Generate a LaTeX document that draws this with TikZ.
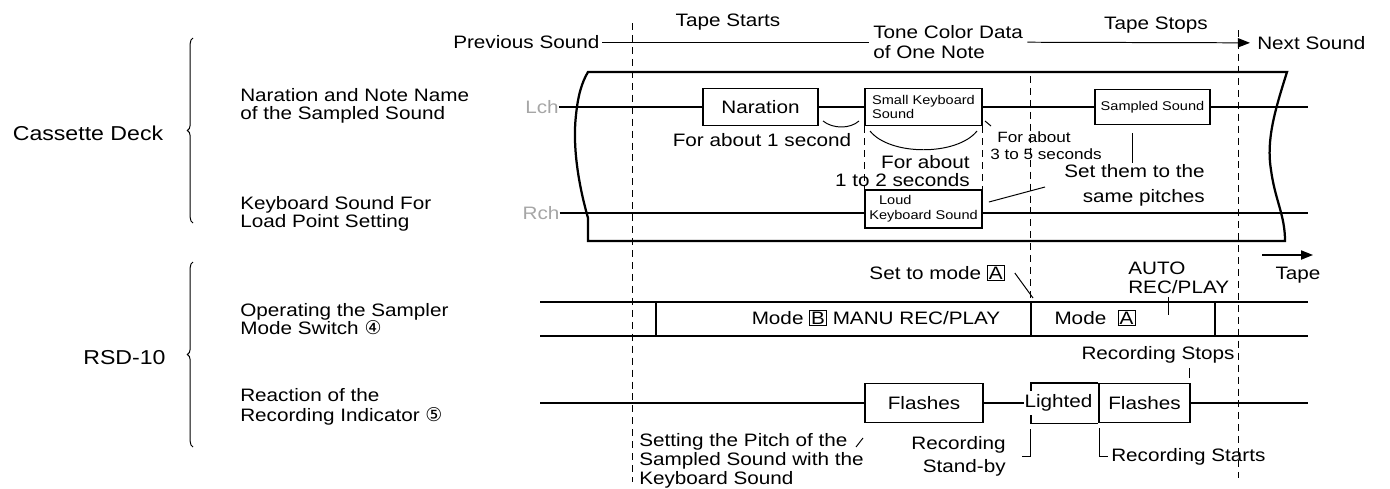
\documentclass[tikz,border=0pt]{standalone}
\usepackage{fontspec}
\setmainfont{Liberation Sans}[FakeStretch=1.15]
\newfontfamily\symfont{DejaVu Sans}
\usetikzlibrary{arrows.meta,decorations.pathreplacing,calc}
\newcommand{\fsz}[2]{\fontsize{#1}{#2}\selectfont\lineskiplimit=-20pt\relax}
\newcommand{\modekey}[1]{{\setlength{\fboxsep}{0.7pt}\setlength{\fboxrule}{0.7pt}\fbox{#1}}}
\newcommand{\circnum}[1]{{\symfont\fontsize{13.5}{13.5}\selectfont #1}}
\tikzset{
  txt/.style={inner sep=0pt,font=\fsz{12.8}{15}},           % plain label
  big/.style={inner sep=0pt,font=\fsz{14.3}{16}},           % group label
  chan/.style={inner sep=0pt,font=\fsz{12.8}{15},text=gray!70},% Lch / Rch
  sbox/.style={draw,line width=1.3pt,inner sep=0pt,minimum height=9.25mm,font=\fsz{12.8}{15}},
  track/.style={line width=1.3pt},
  tape/.style={line width=1.6pt},
  lead/.style={line width=0.7pt},
  guide/.style={line width=0.7pt,dash pattern=on 5pt off 3.5pt},
  tip/.style={-{Triangle[length=3mm,width=2.3mm]}},
}

\begin{document}
\begin{tikzpicture}[x=0.25mm,y=-0.25mm]
  \useasboundingbox (0,0) rectangle (1390,488);
  % time marks
  \draw[guide] (632,23) -- (632,482);
  \draw[guide] (1238,30) -- (1238,478);
  \draw[guide] (1030,76) -- (1030,300);
  % top line
  \node[txt,anchor=west] (prev) at (453,42) {Previous Sound};
  \node[txt,anchor=west,align=left,font=\fsz{12.8}{14.2}] (tone) at (873,42) {Tone Color Data\\of One Note};
  \node[txt,anchor=west] (next) at (1257,43) {Next Sound};
  \node[txt] (tstart) at (728,22) {Tape Starts};
  \node[txt] (tstop) at (1156,25) {Tape Stops};
  \draw[lead,shorten <=2pt,shorten >=3pt] (prev) -- (tone);
  \draw[lead,tip,shorten <=3pt,shorten >=5pt] (tone) -- (next);
  % tape
  \draw[tape] (588,72) -- (1287,72) .. controls (1275,110) and (1266,140) .. (1271,170)
    .. controls (1275,200) and (1285,215) .. (1285,241) -- (588,241) -- (588,218)
    .. controls (580,190) and (572,150) .. (576,115) .. controls (578,95) and (582,82) .. (588,72) -- cycle;
  \node[chan] (lch) at (542,107) {Lch};
  \node[chan] (rch) at (541,213) {Rch};
  \node[sbox,minimum width=28.75mm] (nar) at (760.5,107) {Naration};
  \node[sbox,minimum width=29.25mm,align=left,font=\fsz{9}{10}] (skb) at (923.5,107) {Small Keyboard\\ Sound};
  \node[sbox,minimum width=28.75mm,minimum height=8.75mm,font=\fsz{9}{10}] (smp) at (1152.5,107) {Sampled Sound};
  \node[sbox,minimum width=29.25mm,minimum height=9.5mm,align=left,font=\fsz{9}{10.6}] (lkb) at (923.5,209) {\hspace{7pt}Loud\\Keyboard Sound};
  \coordinate (lend) at (1308,107);
  \coordinate (rend) at (1308,213);
  \draw[track] (lch) -- (nar) (nar) -- (skb) (skb) -- (smp) (smp) -- (lend);
  \draw[track] (rch) -- (lkb.west |- rch) (lkb.east |- rch) -- (rend);
  \draw[guide] (skb.south west) -- (lkb.north west);
  \draw[guide] (skb.south east) -- (lkb.north east);
  % durations
  \node[txt] (sec1) at (762,140) {For about 1 second};
  \draw[lead] (823,121) .. controls (833,129) and (850,129) .. (859,121);
  \draw[lead] (870,131) .. controls (890,156) and (957,156) .. (977,131);
  \node[txt,anchor=east,align=right,font=\fsz{12.8}{12.8}] (sec2) at (970,171) {For about\\1 to 2 seconds};
  \node[txt,anchor=west,align=left,font=\fsz{10.6}{12}] (sec3) at (990,145.5) {\hspace{5pt}For about\\3 to 5 seconds};
  \draw[lead] (985,121) -- (991,126);
  \draw[lead] ($(smp.south)+(-20,8)$) -- ++(0,30);
  \node[txt,anchor=east,align=right,font=\fsz{12.8}{17.7}] (pitch) at (1205,185.5) {Set them to the\\same pitches};
  \draw[lead] ($(lkb.east)+(6,-7)$) -- (1045,187);
  % tape direction
  \coordinate (tdir) at (1262,255);
  \draw[lead,line width=1pt,tip] (tdir) -- ++(51,0);
  \node[txt] (tapel) at (1298,275) {Tape};
  % mode switch
  \draw[track] (540,302) -- (1308,302) (540,336) -- (1308,336);
  \foreach \x in {656,1031,1215} \draw[track] (\x,302) -- (\x,336);
  \node[txt] (modeb) at (876,318) {Mode \modekey{B} MANU REC/PLAY};
  \node[txt] (modea) at (1095,318) {Mode\ \ \modekey{A}};
  \node[txt,anchor=west,align=left,font=\fsz{12.8}{13.5}] (auto) at (1128,277.5) {AUTO\\REC/PLAY};
  \draw[lead] (1168,297) -- (1168,315);
  \node[txt] (seta) at (937,273) {Set to mode \modekey{A}};
  \draw[lead] ($(seta.east)+(10,0)$) -- (1033,298);
  % recording indicator
  \coordinate (istart) at (540,403);
  \coordinate (iend) at (1308,403);
  \node[sbox,minimum width=29.5mm,minimum height=9.75mm] (fl1) at (924,403) {Flashes};
  \node[txt] (lit) at (1058.5,403) {Lighted};
  \node[sbox,minimum width=22.75mm,minimum height=9.75mm] (fl2) at (1144.5,403) {Flashes};
  \draw[track] (istart) -- (fl1) (fl1) -- (lit) (fl2) -- (iend);
  \draw[track] (1031,391) |- (fl2.north west) (1031,415) |- (fl2.south west);
  \node[txt] (rstop) at (1158,355) {Recording Stops};
  \draw[lead] (1189,368) -- (1189,378);
  \node[txt,anchor=east,align=right,font=\fsz{12.8}{16.3}] (stby) at (1006,456.5) {Recording\\Stand-by};
  \draw[lead] (1030,429) |- (1022,456);
  \node[txt,anchor=west] (rstart) at (1111,457) {Recording Starts};
  \draw[lead] (1099,428) |- (1108,456);
  \node[txt,anchor=west,align=left,font=\fsz{12.8}{13.5}] (setp) at (639,461) {Setting the Pitch of the\\Sampled Sound with the\\Keyboard Sound};
  \draw[lead] (856,447) -- (863,438);
  % left labels
  \node[big] (cd) at (88,133) {Cassette Deck};
  \node[big] (rsd) at (124.5,358) {RSD-10};
  \draw[lead,decorate,decoration={brace,amplitude=1.4mm}] (193,223) -- (193,38);
  \draw[lead,decorate,decoration={brace,amplitude=1.4mm}] (193,447) -- (193,262);
  \node[txt,anchor=west,align=left,font=\fsz{12.8}{12.8}] (lnar) at (240,105.5) {Naration and Note Name\\of the Sampled Sound};
  \node[txt,anchor=west,align=left,font=\fsz{12.8}{12.8}] (lkey) at (240,213.5) {Keyboard Sound For\\Load Point Setting};
  \node[txt,anchor=west,align=left,font=\fsz{12.8}{12.8}] (lmode) at (240,319) {Operating the Sampler\\Mode Switch \circnum{④}};
  \node[txt,anchor=west,align=left,font=\fsz{12.8}{14.2}] (lind) at (240,407) {Reaction of the\\Recording Indicator \circnum{⑤}};
\end{tikzpicture}
\end{document}
